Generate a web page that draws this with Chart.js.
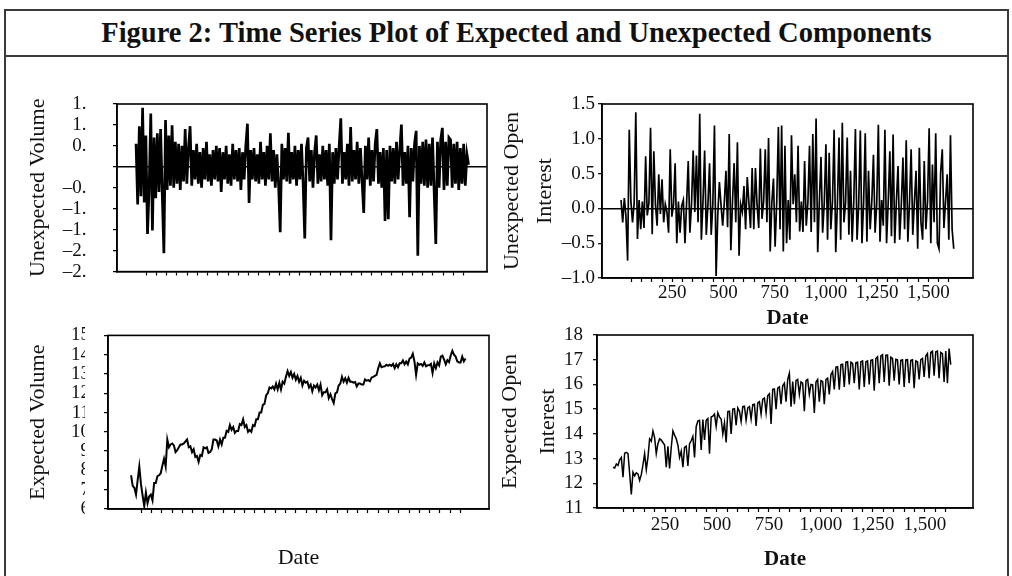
<!DOCTYPE html>
<html><head><meta charset="utf-8">
<script src="https://cdn.jsdelivr.net/npm/chart.js@4.4.1/dist/chart.umd.min.js"></script>
<style>
html,body{margin:0;padding:0;background:#fff;}
#page{position:relative;width:1012px;height:576px;overflow:hidden;background:#fff;font-family:'Liberation Serif',serif;}
#frame{position:absolute;left:4px;top:9px;width:1001px;height:580px;border:2px solid #3a3a3a;border-bottom:none;}
#rule{position:absolute;left:4px;top:55px;width:1005px;height:0;border-top:2px solid #3a3a3a;}
#title{position:absolute;left:24px;top:11px;width:985px;height:44px;line-height:44px;text-align:center;font-weight:bold;font-size:28.5px;color:#111;}
canvas{position:absolute;}
</style></head><body>
<div id="page">
<div id="frame"></div>
<div id="title">Figure 2: Time Series Plot of Expected and Unexpected Components</div>
<div id="rule"></div>
<canvas id="c1" width="500" height="240" style="left:0;top:60px;width:500px;height:240px"></canvas>
<canvas id="c2" width="532" height="280" style="left:480px;top:60px;width:532px;height:280px"></canvas>
<canvas id="c3" width="500" height="266" style="left:0;top:310px;width:500px;height:266px"></canvas>
<canvas id="c4" width="532" height="266" style="left:480px;top:310px;width:532px;height:266px"></canvas>
</div>
<script>
// ---- data (trading-day index sampled every 8 days) ----
const dates = [
0,8,16,24,32,40,48,56,64,72,
80,88,96,104,112,120,128,136,144,152,
160,168,176,184,192,200,208,216,224,232,
240,248,256,264,272,280,288,296,304,312,
320,328,336,344,352,360,368,376,384,392,
400,408,416,424,432,440,448,456,464,472,
480,488,496,504,512,520,528,536,544,552,
560,568,576,584,592,600,608,616,624,632,
640,648,656,664,672,680,688,696,704,712,
720,728,736,744,752,760,768,776,784,792,
800,808,816,824,832,840,848,856,864,872,
880,888,896,904,912,920,928,936,944,952,
960,968,976,984,992,1000,1008,1016,1024,1032,
1040,1048,1056,1064,1072,1080,1088,1096,1104,1112,
1120,1128,1136,1144,1152,1160,1168,1176,1184,1192,
1200,1208,1216,1224,1232,1240,1248,1256,1264,1272,
1280,1288,1296,1304,1312,1320,1328,1336,1344,1352,
1360,1368,1376,1384,1392,1400,1408,1416,1424,1432,
1440,1448,1456,1464,1472,1480,1488,1496,1504,1512,
1520,1528,1536,1544,1552,1560,1568,1576,1584,1592,
1600,1608,1616,1624];

const unexpectedVolume = [
0.55,-0.9,0.97,-0.7,1.41,-0.85,0.75,-1.6,-0.5,1.27,
-1.52,0.7,-0.75,0.8,-0.6,0.9,-0.65,-2.06,1.12,-0.55,
0.75,-0.45,0.99,-0.5,0.6,-0.4,0.55,-0.55,0.5,-0.35,
0.9,-0.4,0.45,0.97,-0.45,0.4,-0.3,0.55,-0.4,0.35,
-0.5,0.45,-0.3,0.6,-0.35,0.3,-0.45,0.4,-0.3,0.5,
-0.35,0.45,-0.6,0.35,-0.3,0.5,-0.4,0.3,-0.45,0.55,
-0.3,0.4,-0.35,0.45,-0.55,0.35,-0.3,0.5,1.03,-0.86,
0.4,-0.3,0.45,-0.35,0.3,-0.4,0.6,-0.3,0.35,-0.45,
0.5,-0.3,0.8,-0.35,0.4,-0.5,0.3,-0.4,-1.56,0.55,
-0.3,0.45,-0.35,0.81,-0.4,0.35,-0.3,0.5,-0.45,0.4,
-0.3,0.55,-0.4,-1.71,0.45,0.7,-0.35,0.4,-0.5,0.35,
0.75,-0.4,0.3,-0.35,0.5,-0.3,0.4,-0.45,0.55,-1.75,
0.35,-0.4,0.45,-0.3,0.5,1.16,-0.4,0.35,-0.3,0.55,
-0.45,0.95,-0.35,0.4,-0.3,0.6,-0.4,0.45,-0.35,-1.1,
0.5,-0.3,0.7,-0.45,0.4,-0.35,0.55,0.9,-0.4,0.35,
-0.5,0.45,-1.29,0.4,-1.25,0.5,-0.35,0.45,-0.4,0.6,
-0.3,0.4,1.01,-0.45,0.35,-0.4,0.5,-1.2,0.45,-0.35,
0.55,0.86,-2.12,0.5,-0.4,0.6,-0.45,0.65,-0.5,0.55,
-0.45,0.7,-0.6,-1.84,0.6,-0.5,0.65,0.93,-0.55,0.6,
-0.45,0.7,0.65,-0.5,0.55,-0.4,0.6,-0.55,0.45,-0.4,
0.55,-0.45,0.3,0.05];

const unexpectedOpenInterest = [
0.12,-0.2,0.15,-0.12,-0.75,1.13,0.1,-0.2,0.08,1.38,
-0.44,0.12,-0.3,0.1,-0.28,0.75,-0.1,0.08,1.16,-0.37,
0.82,0.05,-0.25,0.49,-0.08,0.42,-0.2,0.06,-0.05,-0.35,
0.85,-0.12,0.05,0.65,-0.5,0.1,-0.35,0.04,0.12,-0.5,
0.08,0.68,-0.35,0.06,0.83,-0.05,0.76,-0.2,1.36,-0.45,
0.1,0.83,-0.38,0.05,0.65,-0.38,0.06,1.19,-0.97,-0.1,
0.38,0.05,-0.25,0.08,0.54,-0.27,1.07,-0.6,0.1,0.65,
-0.2,0.95,-0.68,0.06,-0.05,0.32,-0.3,0.45,0.08,-0.28,
0.58,-0.3,0.58,0.05,-0.28,0.86,-0.15,0.1,0.85,-0.2,
1.01,-0.62,0.08,0.43,-0.55,0.1,1.17,-0.3,1.19,-0.62,
0.9,-0.5,0.12,-0.45,1.05,0.06,0.49,-0.2,0.9,-0.33,
0.1,-0.34,0.68,-0.25,0.08,0.9,-0.34,1.07,-0.2,1.29,
-0.63,0.1,0.74,-0.35,0.08,0.92,-0.45,0.8,-0.3,0.1,
1.13,-0.63,0.06,1.02,-0.45,1.23,-0.2,0.08,1.02,-0.38,
0.54,-0.48,0.1,1.14,-0.45,0.05,1.12,-0.5,0.08,1.08,
-0.48,0.54,-0.3,0.1,0.77,-0.35,0.06,1.2,-0.48,0.12,
-0.25,1.13,-0.5,0.08,0.82,-0.4,1.06,-0.5,0.1,0.61,
-0.45,0.05,0.73,-0.3,0.98,-0.48,0.08,0.85,-0.38,0.1,
0.54,-0.58,0.87,-0.2,-0.45,0.68,-0.3,0.1,1.15,-0.5,
0.63,-0.2,1.08,-0.5,-0.58,0.51,0.85,-0.28,0.1,0.49,
-0.45,1.05,-0.3,-0.58];

const expectedVolume = [
7.75,7.2,7.1,6.75,7.5,8.2,7.3,6.7,6.15,6.85,
6.3,6.65,6.75,6.45,7.35,7.35,7.7,7.75,7.85,8.25,
8.6,8.2,9.6,9.2,9.35,9.4,9.3,8.95,9.05,9.2,
9.35,9.35,9.4,9.5,9.6,9.2,9.25,8.95,9.1,8.7,
8.75,8.45,8.8,8.75,9.2,9.15,9.2,8.9,8.95,9.1,
9.6,9.6,9.55,9.25,9.6,9.35,9.7,9.7,10.05,10.0,
10.35,10.1,10.25,9.95,10.05,10.05,10.4,10.35,10.65,10.25,
10.35,10.0,10.1,10.0,10.35,10.3,10.65,10.65,11.0,11.0,
11.4,11.45,11.9,12.0,12.3,12.25,12.35,12.2,12.5,12.2,
12.55,12.2,12.6,12.5,12.85,13.15,12.9,13.1,12.8,13.0,
12.7,12.9,12.6,12.8,12.4,12.65,12.55,12.6,12.3,12.45,
12.1,12.4,12.3,12.45,12.15,12.45,11.9,12.05,12.05,12.2,
11.75,11.95,11.7,11.5,12.0,12.05,12.4,12.5,12.85,12.6,
12.78,12.55,12.8,12.6,12.6,12.55,12.58,12.35,12.5,12.5,
12.45,12.45,12.72,12.65,12.68,12.62,12.82,12.85,12.9,12.95,
13.3,13.55,13.35,13.38,13.4,13.48,13.42,13.48,13.42,13.52,
13.3,13.5,13.35,13.55,13.55,13.7,13.5,13.65,13.5,13.8,
13.85,14.05,13.65,12.95,13.55,13.48,13.52,13.42,13.6,13.4,
13.45,13.45,13.52,13.05,13.55,13.3,13.6,13.45,13.9,13.95,
13.75,13.5,13.72,13.62,13.95,14.2,14.0,13.9,13.65,13.6,
13.6,13.9,13.65,13.8];

const expectedOpenInterest = [
12.65,12.62,12.78,12.72,12.95,13.05,12.25,13.22,13.25,13.2,
12.4,11.55,12.45,12.3,12.42,12.38,12.12,12.35,12.75,13.2,
12.55,13.05,13.8,13.7,14.12,13.85,13.2,13.6,13.8,13.75,
13.65,13.55,12.65,13.5,12.6,13.45,14.12,13.95,13.8,13.55,
13.05,13.3,12.65,13.45,13.5,12.7,13.6,13.72,13.9,13.05,
14.3,14.52,14.55,13.35,14.58,13.75,14.55,14.62,13.2,14.68,
14.72,14.8,14.3,14.85,14.68,14.6,14.0,14.45,13.65,14.9,
14.92,14.0,15.0,15.02,14.35,15.05,14.92,14.5,15.1,15.12,
14.55,15.05,15.1,14.6,15.18,15.2,14.32,15.25,15.3,14.8,
15.4,15.45,14.85,15.55,15.62,14.4,15.8,15.82,15.0,15.85,
15.9,15.2,15.95,16.05,15.3,16.2,16.45,15.1,16.12,15.2,
16.15,16.2,15.6,16.1,16.05,14.92,16.15,16.2,15.6,16.0,
15.98,14.85,16.1,16.2,15.3,16.15,16.12,15.2,16.2,16.25,
15.6,16.4,16.52,15.8,16.7,16.72,15.79,16.8,16.82,15.9,
16.9,16.92,16.0,16.9,16.85,16.05,16.88,16.9,15.8,16.92,
16.95,15.9,16.92,16.95,16.0,16.98,17.0,15.75,17.05,17.12,
16.05,17.15,17.2,16.1,17.18,17.19,15.95,17.1,17.05,16.15,
17.02,17.0,16.0,16.98,17.0,15.9,16.99,17.0,16.05,16.98,
17.0,15.85,16.95,16.92,16.2,17.0,17.05,16.3,17.15,17.25,
16.25,17.3,17.35,16.35,17.32,17.35,16.25,17.3,17.25,16.1,
17.35,16.05,17.45,16.8];

// ---- axis ticks / labels ----
const xTickValues = [50,100,150,200,250,300,350,400,450,500,550,600,650,700,750,800,850,900,950,1000,1050,1100,1150,1200,1250,1300,1350,1400,1450,1500,1550,1600];
const xLabelValues = [250,500,750,1000,1250,1500];
const xLabelText = ['250','500','750','1,000','1,250','1,500'];

const uvTicks = [-2.5,-2,-1.5,-1,-0.5,0,0.5,1,1.5];
const uvLabels = ['–2.5','–2.0','–1.5','–1.0','–0.5','','0.5','1.0','1.5'];
const uoiTicks = [-1,-0.5,0,0.5,1,1.5];
const uoiLabels = ['–1.0','–0.5','0.0','0.5','1.0','1.5'];
const evTicks = [6,7,8,9,10,11,12,13,14,15];
const evLabels = ['6','7','8','9','10','11','12','13','14','15'];
const eoiTicks = [11,12,13,14,15,16,17,18];
const eoiLabels = ['11','12','13','14','15','16','17','18'];

// ---- rendering ----
const F = "'Liberation Serif', 'Times New Roman', serif";
Chart.defaults.font.family = F;
Chart.defaults.color = '#111';

const framePlugin = {
  id: 'frameBox',
  afterDatasetsDraw(chart) {
    const {ctx, chartArea: a} = chart;
    ctx.save(); ctx.strokeStyle = '#000'; ctx.lineWidth = 1.6;
    ctx.strokeRect(a.left, a.top, a.right - a.left, a.bottom - a.top);
    ctx.restore();
  }
};
// the scanned original cuts off the right part of some y tick labels
const cutPlugin = {
  id: 'labelCut',
  beforeDraw(chart, args, o) {
    if (!o || !o.gap) return;
    const ctx = chart.ctx; ctx.save(); ctx.beginPath();
    ctx.rect(0, 0, o.gap[0], chart.height);
    ctx.rect(o.gap[1], 0, chart.width - o.gap[1], chart.height);
    ctx.clip();
  },
  afterDraw(chart, args, o) { if (o && o.gap) chart.ctx.restore(); }
};

function panel(id, p) {
  return new Chart(document.getElementById(id), {
    type: 'line',
    data: { datasets: [{
      data: dates.map((d, i) => ({x: d, y: p.values[i]})),
      borderColor: '#000', borderWidth: p.lw, pointRadius: 0, tension: 0, fill: false,
      borderJoinStyle: 'miter'
    }]},
    options: {
      responsive: false, animation: false, events: [],
      layout: { padding: { left: 0, top: p.padTop, right: p.padRight, bottom: 0 } },
      plugins: { legend: {display: false}, tooltip: {enabled: false}, labelCut: { gap: p.gap || null } },
      scales: {
        x: {
          type: 'linear', min: p.xmin, max: p.xmax,
          afterBuildTicks: s => { s.ticks = xTickValues.map(v => ({value: v})); },
          afterFit: s => { s.height = p.xHeight; },
          ticks: { autoSkip: false, maxRotation: 0, padding: p.xPad, font: {size: 19}, color: '#111',
            callback: v => { const k = xLabelValues.indexOf(v); return (p.xLabels && k >= 0) ? xLabelText[k] : ''; } },
          grid: { drawOnChartArea: false, tickLength: 4, tickColor: '#000', tickWidth: 1.2 },
          border: { display: true, color: '#000', width: 1.6 },
          title: { display: !!p.xTitle, text: p.xTitle || '', color: '#111',
            font: {size: p.xTitleSize, weight: p.xTitleWeight, lineHeight: 1.2},
            padding: {top: 0, bottom: p.xTitlePad} }
        },
        y: {
          type: 'linear', min: p.ymin, max: p.ymax,
          afterBuildTicks: s => { s.ticks = p.yTicks.map(v => ({value: v})); },
          afterFit: s => { s.width = p.yWidth; },
          ticks: { autoSkip: false, padding: p.yPad, font: {size: 19}, color: '#111',
            callback: (v, i) => p.yLabels[i] },
          grid: { drawOnChartArea: !!p.zero, tickLength: 4, tickColor: '#000', tickWidth: 1.2,
            color: c => (c.tick && c.tick.value === 0) ? '#000' : 'rgba(0,0,0,0)', lineWidth: 1.4 },
          border: { display: true, color: '#000', width: 1.6 },
          title: { display: true, text: p.yTitle, color: '#111',
            font: {size: 22, lineHeight: p.yTitleLH},
            padding: {top: p.yTitlePad, bottom: 0} }
        }
      }
    },
    plugins: [framePlugin, cutPlugin]
  });
}

panel('c1', { values: unexpectedVolume, lw: 2.7,
  xmin: -93, xmax: 1714, xHeight: 22, xPad: 0, xLabels: false,
  ymin: -2.5, ymax: 1.5, yTicks: uvTicks, yLabels: uvLabels, yWidth: 117, yPad: 17,
  yTitle: 'Unexpected Volume', yTitleLH: 1.2, yTitlePad: 24.8, zero: true,
  padTop: 44, padRight: 13, gap: [86, 112] });

panel('c2', { values: unexpectedOpenInterest, lw: 1.7,
  xmin: -93, xmax: 1718, xHeight: 62, xPad: 0, xLabels: true,
  xTitle: 'Date', xTitleSize: 21, xTitleWeight: 'bold', xTitlePad: 9,
  ymin: -1, ymax: 1.5, yTicks: uoiTicks, yLabels: uoiLabels, yWidth: 122, yPad: 3,
  yTitle: ['Unexpected Open', 'Interest'], yTitleLH: 1.5, yTitlePad: 15.5, zero: true,
  padTop: 44, padRight: 39 });

panel('c3', { values: expectedVolume, lw: 2.0,
  xmin: -112, xmax: 1738, xHeight: 67, xPad: 0, xLabels: false,
  xTitle: 'Date', xTitleSize: 22, xTitleWeight: 'normal', xTitlePad: 5,
  ymin: 6, ymax: 15, yTicks: evTicks, yLabels: evLabels, yWidth: 108, yPad: 14,
  yTitle: 'Expected Volume', yTitleLH: 1.2, yTitlePad: 24.8, zero: false,
  padTop: 24, padRight: 11, gap: [85, 103] });

panel('c4', { values: expectedOpenInterest, lw: 1.5,
  xmin: -77, xmax: 1731, xHeight: 68, xPad: 2, xLabels: true,
  xTitle: 'Date', xTitleSize: 21, xTitleWeight: 'bold', xTitlePad: 3.4,
  ymin: 11, ymax: 18, yTicks: eoiTicks, yLabels: eoiLabels, yWidth: 117, yPad: 10,
  yTitle: ['Expected Open', 'Interest'], yTitleLH: 1.73, yTitlePad: 11, zero: false,
  padTop: 25, padRight: 39 });
</script>
</body></html>
